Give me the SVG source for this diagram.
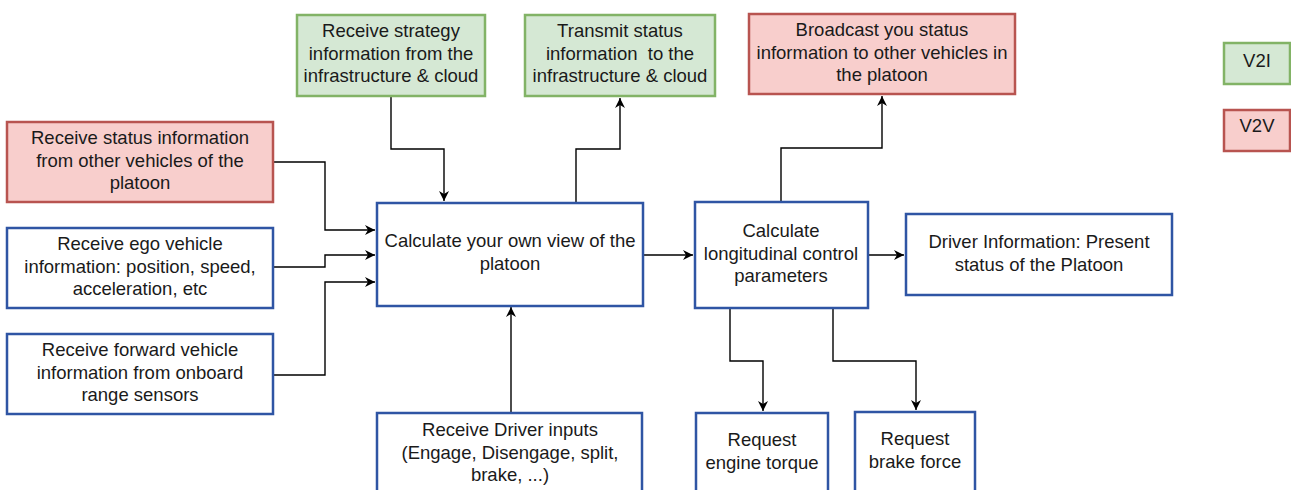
<svg xmlns="http://www.w3.org/2000/svg" width="1291" height="490" viewBox="0 0 1291 490">
<style>
.blue{fill:#ffffff;stroke:#2f55a4;stroke-width:2.5}
.red{fill:#f8cecc;stroke:#b85450;stroke-width:2.5}
.green{fill:#d5e8d4;stroke:#82b366;stroke-width:2.5}
text{font-family:"Liberation Sans",Arial,sans-serif;font-size:18.5px;fill:#1a1a1a;text-anchor:middle}
.c{fill:none;stroke:#000;stroke-width:1.4}
</style>
<defs>
<marker id="ah" viewBox="0 0 10 10" refX="10" refY="5" markerWidth="10" markerHeight="10" markerUnits="userSpaceOnUse" orient="auto">
<path d="M0,0 L10,5 L0,10 L3,5 Z" fill="#000"/>
</marker>
</defs>
<rect width="1291" height="490" fill="#ffffff"/>
<g id="connectors">
<path class="c" d="M273,162 H325 V230 H375" marker-end="url(#ah)"/>
<path class="c" d="M273,267 H325 V255 H375" marker-end="url(#ah)"/>
<path class="c" d="M273,375 H325 V282 H375" marker-end="url(#ah)"/>
<path class="c" d="M391,96 V149 H444 V201" marker-end="url(#ah)"/>
<path class="c" d="M576,203 V149 H620 V98" marker-end="url(#ah)"/>
<path class="c" d="M511,413 V307" marker-end="url(#ah)"/>
<path class="c" d="M643,255 H693" marker-end="url(#ah)"/>
<path class="c" d="M868,255 H904" marker-end="url(#ah)"/>
<path class="c" d="M781,202 V148 H882 V96" marker-end="url(#ah)"/>
<path class="c" d="M730,308 V361 H763 V411" marker-end="url(#ah)"/>
<path class="c" d="M833,308 V361 H916 V410" marker-end="url(#ah)"/>
</g>
<g id="n-recv-strategy">
<rect class="green" x="297" y="15" width="188" height="81"/>
<text x="391" y="37">Receive strategy<tspan x="391" dy="22.5">information from the</tspan><tspan x="391" dy="22.5">infrastructure &amp; cloud</tspan></text>
</g>
<g id="n-transmit-status">
<rect class="green" x="525" y="15" width="190" height="81"/>
<text x="620" y="37" xml:space="preserve">Transmit status<tspan x="620" dy="22.5">information  to the</tspan><tspan x="620" dy="22.5">infrastructure &amp; cloud</tspan></text>
</g>
<g id="n-broadcast">
<rect class="red" x="749" y="14" width="266" height="80"/>
<text x="882" y="36">Broadcast you status<tspan x="882" dy="22.5">information to other vehicles in</tspan><tspan x="882" dy="22.5">the platoon</tspan></text>
</g>
<g id="n-v2i">
<rect class="green" x="1224" y="43" width="66" height="41"/>
<text x="1257" y="67">V2I</text>
</g>
<g id="n-v2v">
<rect class="red" x="1224" y="110" width="66" height="41"/>
<text x="1257" y="132">V2V</text>
</g>
<g id="n-recv-status">
<rect class="red" x="7" y="122" width="266" height="80"/>
<text x="140" y="144">Receive status information<tspan x="140" dy="22.5">from other vehicles of the</tspan><tspan x="140" dy="22.5">platoon</tspan></text>
</g>
<g id="n-ego">
<rect class="blue" x="7" y="228" width="266" height="80"/>
<text x="140" y="250">Receive ego vehicle<tspan x="140" dy="22.5">information: position, speed,</tspan><tspan x="140" dy="22.5">acceleration, etc</tspan></text>
</g>
<g id="n-forward">
<rect class="blue" x="7" y="334" width="266" height="80"/>
<text x="140" y="356">Receive forward vehicle<tspan x="140" dy="22.5">information from onboard</tspan><tspan x="140" dy="22.5">range sensors</tspan></text>
</g>
<g id="n-own-view">
<rect class="blue" x="377" y="203" width="266" height="103"/>
<text x="510" y="247">Calculate your own view of the<tspan x="510" dy="22.5">platoon</tspan></text>
</g>
<g id="n-longitudinal">
<rect class="blue" x="695" y="202" width="173" height="106"/>
<text x="781" y="237">Calculate<tspan x="781" dy="22.5">longitudinal control</tspan><tspan x="781" dy="22.5">parameters</tspan></text>
</g>
<g id="n-driver-info">
<rect class="blue" x="906" y="214" width="266" height="81"/>
<text x="1039" y="248">Driver Information: Present<tspan x="1039" dy="22.5">status of the Platoon</tspan></text>
</g>
<g id="n-driver-inputs">
<rect class="blue" x="377" y="413" width="265" height="90"/>
<text x="510" y="436">Receive Driver inputs<tspan x="510" dy="22.5">(Engage, Disengage, split,</tspan><tspan x="510" dy="22.5">brake, ...)</tspan></text>
</g>
<g id="n-engine">
<rect class="blue" x="696" y="413" width="132" height="90"/>
<text x="762" y="446">Request<tspan x="762" dy="22.5">engine torque</tspan></text>
</g>
<g id="n-brake">
<rect class="blue" x="855" y="412" width="120" height="90"/>
<text x="915" y="445">Request<tspan x="915" dy="22.5">brake force</tspan></text>
</g>
</svg>
